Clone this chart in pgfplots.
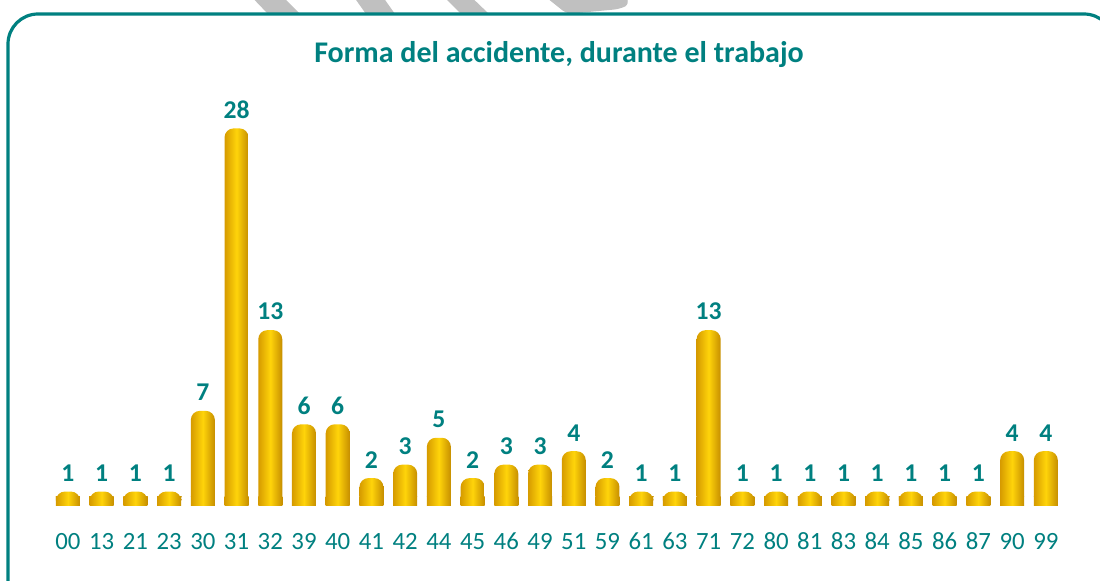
\documentclass[border=0pt]{standalone}
\usepackage{pgfplots}
\pgfplotsset{compat=1.18}
\usepackage{fontspec}
\setmainfont{Carlito}
\definecolor{tealc}{RGB}{0,128,128}
\definecolor{goldL}{RGB}{214,155,0}
\definecolor{goldM}{RGB}{255,212,10}
\definecolor{goldR}{RGB}{198,142,0}
\definecolor{wmgray}{RGB}{192,192,192}
\pgfplotstableread{
x y
0 1
1 1
2 1
3 1
4 7
5 28
6 13
7 6
8 6
9 2
10 3
11 5
12 2
13 3
14 3
15 4
16 2
17 1
18 1
19 13
20 1
21 1
22 1
23 1
24 1
25 1
26 1
27 1
28 4
29 4
}\datatable
\begin{document}
\begin{tikzpicture}
\useasboundingbox (0,0) rectangle (550pt,290pt);
\begin{scope}[x=0.5pt,y=0.5pt]
% watermark fragments
\fill[wmgray] (245,590) -- (276,590) -- (300,566) -- (268,566) -- cycle;
\fill[wmgray] (349,590) -- (378,590) -- (395,566) -- (366,566) -- cycle;
\fill[wmgray] (437,590) -- (464,590) -- (489,566) -- (461,566) -- cycle;
\fill[wmgray, rounded corners=3pt] (537,590) -- (622,590) -- (630,576) -- (620,571) -- (567,566) -- cycle;
% frame
\draw[tealc, line width=1.6pt, rounded corners=15pt] (8,-60) rectangle (1114,566);
% title
\node[text=tealc, font=\fontsize{15}{17}\selectfont\bfseries] at (559,525) {Forma del accidente, durante el trabajo};
\end{scope}
\begin{axis}[
  at={(25.55pt,37.5pt)}, anchor=south west,
  scale only axis, width=505.8pt, height=201.75pt,
  xmin=-0.5, xmax=29.5, ymin=0, ymax=30,
  ybar, bar width=12pt, bar shift=0pt,
  axis line style={draw=none},
  major tick length=0pt,
  ytick=\empty,
  xtick={0,...,29},
  xticklabels={00,13,21,23,30,31,32,39,40,41,42,44,45,46,49,51,59,61,63,71,72,80,81,83,84,85,86,87,90,99},
  xticklabel style={font=\fontsize{12.4}{14}\selectfont, text=tealc, anchor=base, yshift=-22.4pt},
  /pgf/number format/assume math mode=true,
  clip=false,
  barstyle/.style={draw=none, left color=goldL, right color=goldR, middle color=goldM},
]
\pgfplotsinvokeforeach{0,...,29}{
  \addplot[barstyle,
    x filter/.expression={x==#1 ? x : nan},
    y filter/.expression={0.62}]
    table[x=x,y=y] {\datatable};
  \addplot[barstyle, rounded corners=4.5pt,
    x filter/.expression={x==#1 ? x : nan},
    nodes near coords,
    nodes near coords style={font=\fontsize{12.8}{14}\selectfont\bfseries, text=tealc, yshift=1.5pt}]
    table[x=x,y=y] {\datatable};
}
\end{axis}
\end{tikzpicture}
\end{document}
